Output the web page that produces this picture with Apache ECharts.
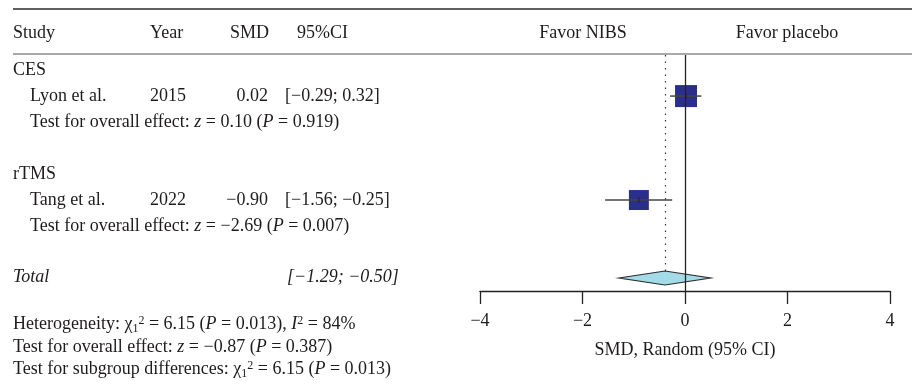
<!DOCTYPE html>
<html>
<head>
<meta charset="utf-8">
<script src="https://cdn.jsdelivr.net/npm/echarts@6/dist/echarts.min.js"></script>
<style>
  html, body { margin: 0; padding: 0; background: #fff; }
  #chart { width: 912px; height: 389px; }
</style>
</head>
<body>
<div id="chart"></div>
<script>
// forest plot data
const studies = ['Lyon et al.', 'Tang et al.'];
const years = ['2015', '2022'];
const smd = [0.02, -0.90];
const ciLow = [-0.29, -1.56];
const ciHigh = [0.32, -0.25];
const weights = [54.8, 45.2];
const studyRows = [2, 6];
const groups = ['CES', 'rTMS'];
const groupRows = [1, 5];
const ciText = ['[\u22120.29; 0.32]', '[\u22121.56; \u22120.25]'];
const groupTests = [
  ['0.10', '0.919'],
  ['\u22122.69', '0.007']
];
const pooled = { low: -1.29, est: -0.39, high: 0.50, row: 9 };
const pooledText = '[\u22121.29; \u22120.50]';

const FONT = '"Liberation Serif", "DejaVu Serif", serif';
const FS = 18;
const INK = '#1f1b1c';
const rowY = r => 44 + 26 * r;

const chart = echarts.init(document.getElementById('chart'));

const rich = {
  i: { fontFamily: FONT, fontSize: FS, fontStyle: 'italic', fill: INK, color: INK },
  sub: { fontFamily: FONT, fontSize: 12, fill: INK, color: INK, padding: [9, 0, 0, 0] },
  sup: { fontFamily: FONT, fontSize: 12, fill: INK, color: INK, padding: [0, 0, 7, 0] }
};

function txt(x, y, text, opts) {
  opts = opts || {};
  return {
    type: 'text', x: x, y: y, silent: true,
    style: {
      text: text,
      fill: INK,
      font: (opts.italic ? 'italic ' : '') + FS + 'px ' + FONT,
      fontFamily: FONT,
      fontSize: FS,
      fontStyle: opts.italic ? 'italic' : 'normal',
      align: opts.align || 'left', textAlign: opts.align || 'left',
      verticalAlign: 'middle', textVerticalAlign: 'middle',
      rich: rich
    }
  };
}

const graphics = [];
// header rules
graphics.push({ type: 'line', silent: true, shape: { x1: 13, y1: 9, x2: 912, y2: 9 }, style: { stroke: '#2b2b2b', lineWidth: 1.4 } });
graphics.push({ type: 'line', silent: true, shape: { x1: 13, y1: 54, x2: 912, y2: 54 }, style: { stroke: '#555', lineWidth: 1.2 } });
// header labels
graphics.push(txt(13, 33, 'Study'));
graphics.push(txt(150, 33, 'Year'));
graphics.push(txt(230, 33, 'SMD'));
graphics.push(txt(297, 33, '95%CI'));
graphics.push(txt(583, 33, 'Favor NIBS', { align: 'center' }));
graphics.push(txt(787, 33, 'Favor placebo', { align: 'center' }));

groups.forEach((g, k) => {
  graphics.push(txt(13, rowY(groupRows[k]), g));
  graphics.push(txt(30, rowY(groupRows[k] + 2),
    'Test for overall effect: {i|z} = ' + groupTests[k][0] + ' ({i|P} = ' + groupTests[k][1] + ')'));
});
studies.forEach((s, k) => {
  const y = rowY(studyRows[k]);
  graphics.push(txt(30, y, s));
  graphics.push(txt(150, y, years[k]));
  graphics.push(txt(268, y, smd[k].toFixed(2).replace('-', '\u2212'), { align: 'right' }));
  graphics.push(txt(285, y, ciText[k]));
});
graphics.push(txt(13, rowY(pooled.row) - 1, 'Total', { italic: true }));
graphics.push(txt(287, rowY(pooled.row) - 1, pooledText, { italic: true }));

graphics.push(txt(13, 324, 'Heterogeneity: \u03c7{sub|1}{sup|2} = 6.15 ({i|P} = 0.013), {i|I}{sup|2} = 84%'));
graphics.push(txt(13, 347, 'Test for overall effect: {i|z} = \u22120.87 ({i|P} = 0.387)'));
graphics.push(txt(13, 369, 'Test for subgroup differences: \u03c7{sub|1}{sup|2} = 6.15 ({i|P} = 0.013)'));

const studyData = studies.map((s, k) => [smd[k], studyRows[k], weights[k], ciLow[k], ciHigh[k]]);

chart.setOption({
  animation: false,
  backgroundColor: '#fff',
  textStyle: { fontFamily: FONT },
  grid: { left: 480, right: 22, top: 55, bottom: 98 },
  xAxis: {
    type: 'value', min: -4, max: 4, interval: 2,
    axisLine: { show: true, lineStyle: { color: '#222', width: 1.3 } },
    axisTick: { show: true, length: 13, lineStyle: { color: '#222', width: 1.3 } },
    splitLine: { show: false },
    axisLabel: {
      margin: 21, color: INK, fontSize: FS, fontFamily: FONT,
      formatter: v => String(v).replace('-', '\u2212')
    },
    name: 'SMD, Random (95% CI)', nameLocation: 'middle', nameGap: 50,
    nameTextStyle: { color: INK, fontSize: FS, fontFamily: FONT }
  },
  yAxis: { type: 'value', inverse: true, min: 0.42, max: 9.5, show: false },
  series: [
    {
      type: 'custom',
      name: 'studies',
      data: studyData,
      z: 3,
      renderItem: (params, api) => {
        const c = api.coord([api.value(0), api.value(1)]);
        const lo = api.coord([api.value(3), api.value(1)]);
        const hi = api.coord([api.value(4), api.value(1)]);
        const s = Math.sqrt(api.value(2)) * 2.97;
        return {
          type: 'group',
          children: [
            { type: 'rect', shape: { x: c[0] - s / 2, y: c[1] - s / 2, width: s, height: s }, style: { fill: '#2b2f8c' } },
            { type: 'line', shape: { x1: lo[0], y1: lo[1], x2: hi[0], y2: hi[1] }, style: { stroke: '#444', lineWidth: 1.5 } },
            { type: 'line', shape: { x1: c[0], y1: c[1] - 3, x2: c[0], y2: c[1] + 3 }, style: { stroke: '#222', lineWidth: 1 } }
          ]
        };
      },
      markLine: {
        silent: true, symbol: 'none', label: { show: false },
        lineStyle: { color: '#222', width: 1.3, type: 'solid' },
        data: [{ xAxis: 0 }]
      }
    },
    {
      type: 'custom',
      name: 'pooled',
      data: [[pooled.low, pooled.est, pooled.high, pooled.row]],
      z: 4,
      renderItem: (params, api) => {
        const r = api.value(3);
        const a = api.coord([api.value(0), r]);
        const m = api.coord([api.value(1), r]);
        const b = api.coord([api.value(2), r]);
        const h = 7;
        return {
          type: 'polygon',
          shape: { points: [[a[0], a[1]], [m[0], m[1] - h], [b[0], b[1]], [m[0], m[1] + h]] },
          style: { fill: '#a3dbe9', stroke: '#2b2b2b', lineWidth: 1.2 }
        };
      },
      markLine: {
        silent: true, symbol: 'none', label: { show: false },
        lineStyle: { color: '#333', width: 1.2, type: [1.5, 5] },
        data: [[{ coord: [pooled.est, 0.42] }, { coord: [pooled.est, pooled.row - 7 / 26] }]]
      }
    }
  ],
  graphic: graphics
});
</script>
</body>
</html>
